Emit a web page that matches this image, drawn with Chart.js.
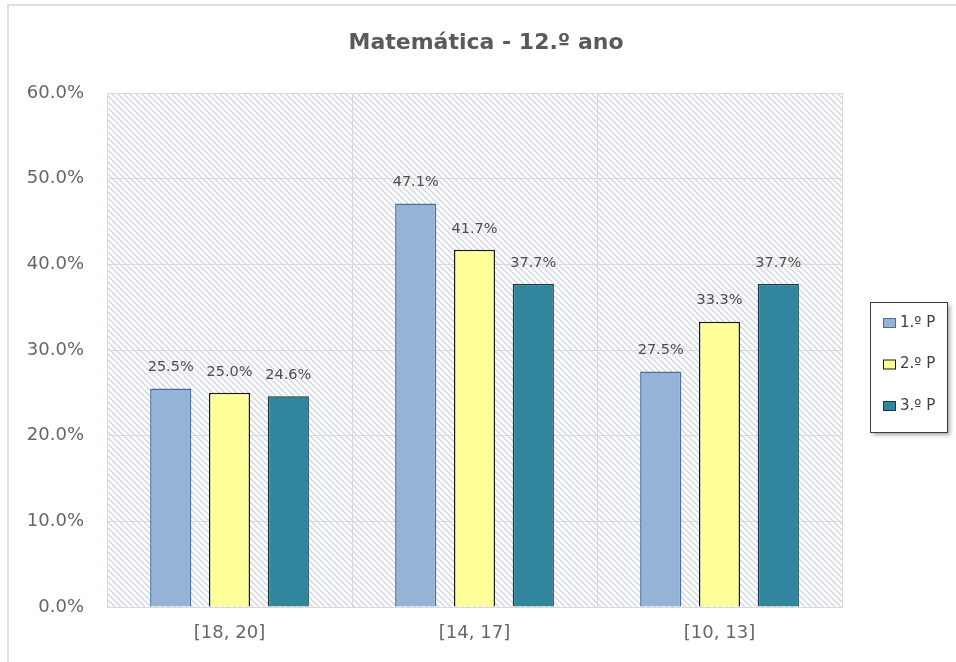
<!DOCTYPE html>
<html><head><meta charset="utf-8">
<script src="https://cdn.jsdelivr.net/npm/chart.js@4/dist/chart.umd.min.js"></script>
<style>
html,body{margin:0;padding:0;background:#fff;overflow:hidden;}
#frame{position:absolute;left:7px;top:4px;width:960px;height:670px;border-left:2px solid #dedede;border-top:2px solid #dedede;}
#wrap{position:absolute;left:0;top:0;width:956px;height:662px;}
</style></head><body>
<div id="frame"></div>
<div id="wrap"><canvas id="c" width="956" height="662" style="width:956px;height:662px"></canvas></div>
<script>
const categories = ['[18, 20]', '[14, 17]', '[10, 13]'];
const seriesLabels = ['1.º P', '2.º P', '3.º P'];
const p1Values = [25.5, 47.1, 27.5];
const p2Values = [25.0, 41.7, 33.3];
const p3Values = [24.6, 37.7, 37.7];
const yTickValues = [0, 10, 20, 30, 40, 50, 60];
const chartTitle = 'Matemática - 12.º ano';

const fills = ['#95B3D7', '#FFFF99', '#31859C'];
const borders = ['#4a6d9a', '#1a1a1a', '#183a48'];
const FONT = "'DejaVu Sans', sans-serif";

function makeHatch() {
  const t = document.createElement('canvas');
  t.width = 6; t.height = 6;
  const g = t.getContext('2d');
  g.fillStyle = '#ffffff';
  g.fillRect(0, 0, 6, 6);
  g.strokeStyle = 'rgba(160,173,188,0.5)';
  g.lineWidth = 1.3;
  g.beginPath();
  g.moveTo(-1, -1); g.lineTo(7, 7);
  g.moveTo(-1, 5); g.lineTo(1, 7);
  g.moveTo(5, -1); g.lineTo(7, 1);
  g.stroke();
  return t;
}

const plotBg = {
  id: 'plotBg',
  beforeDraw(chart) {
    const {ctx, chartArea: a} = chart;
    ctx.save();
    ctx.fillStyle = ctx.createPattern(makeHatch(), 'repeat');
    ctx.fillRect(a.left, a.top, a.right - a.left, a.bottom - a.top);
    ctx.restore();
  }
};

const titlePlugin = {
  id: 'centerTitle',
  afterDraw(chart) {
    const ctx = chart.ctx;
    ctx.save();
    ctx.font = 'bold 22px ' + FONT;
    ctx.fillStyle = '#5a5a5a';
    ctx.textAlign = 'center';
    ctx.textBaseline = 'middle';
    ctx.fillText(chartTitle, chart.width / 2 + 8, 43);
    ctx.restore();
  }
};

const dataLabels = {
  id: 'dataLabels',
  afterDatasetsDraw(chart) {
    const ctx = chart.ctx;
    ctx.save();
    ctx.font = '14.5px ' + FONT;
    ctx.fillStyle = '#4d4d4d';
    ctx.textAlign = 'center';
    ctx.textBaseline = 'middle';
    chart.data.datasets.forEach((ds, di) => {
      chart.getDatasetMeta(di).data.forEach((bar, i) => {
        ctx.fillText(ds.data[i].toFixed(1) + '%', bar.x, bar.y - 21);
      });
    });
    ctx.restore();
  }
};

const boxLegend = {
  id: 'boxLegend',
  afterDraw(chart) {
    const {ctx, chartArea: a} = chart;
    const left = a.right + 28, top = a.top + 209, w = 77, h = 130;
    ctx.save();
    ctx.shadowColor = 'rgba(0,0,0,0.35)';
    ctx.shadowBlur = 4;
    ctx.shadowOffsetX = 3;
    ctx.shadowOffsetY = 3;
    ctx.fillStyle = '#ffffff';
    ctx.fillRect(left, top, w, h);
    ctx.shadowColor = 'transparent';
    ctx.strokeStyle = '#3a3a3a';
    ctx.lineWidth = 1;
    ctx.strokeRect(left + 0.5, top + 0.5, w, h);
    ctx.font = '15px ' + FONT;
    ctx.textBaseline = 'middle';
    ctx.textAlign = 'left';
    chart.data.datasets.forEach((ds, i) => {
      const cy = top + 21 + i * 41.5;
      ctx.fillStyle = ds.backgroundColor;
      ctx.fillRect(left + 13, cy - 5, 13, 10);
      ctx.strokeStyle = ds.borderColor;
      ctx.strokeRect(left + 13.5, cy - 4.5, 12, 9);
      ctx.fillStyle = '#404040';
      ctx.fillText(ds.label, left + 30, cy);
    });
    ctx.restore();
  }
};

const datasets = [p1Values, p2Values, p3Values].map((vals, i) => ({
  label: seriesLabels[i],
  data: vals,
  backgroundColor: fills[i],
  borderColor: borders[i],
  borderWidth: 1.5,
  categoryPercentage: 0.72,
  barPercentage: 0.7
}));

new Chart(document.getElementById('c'), {
  type: 'bar',
  data: {labels: categories, datasets},
  plugins: [plotBg, dataLabels, boxLegend, titlePlugin],
  options: {
    responsive: false,
    animation: false,
    layout: {padding: {left: 7, right: 114, top: 93, bottom: 8}},
    plugins: {
      legend: {display: false},
      tooltip: {enabled: false},
      title: {display: false}
    },
    scales: {
      x: {
        offset: true,
        grid: {color: '#d9d9d9', drawTicks: false, offset: true},
        border: {color: '#d9d9d9'},
        ticks: {color: '#666666', font: {family: FONT, size: 18}, padding: 16},
        afterFit(s) { s.height = 47; }
      },
      y: {
        min: 0, max: 60,
        grid: {color: '#d9d9d9', drawTicks: false},
        border: {color: '#d9d9d9'},
        afterBuildTicks(s) { s.ticks = yTickValues.map(v => ({value: v})); },
        ticks: {
          color: '#666666',
          font: {family: FONT, size: 18},
          padding: 23,
          callback: v => Number(v).toFixed(1) + '%'
        },
        afterFit(s) { s.width = 100; }
      }
    }
  }
});
</script>
</body></html>
